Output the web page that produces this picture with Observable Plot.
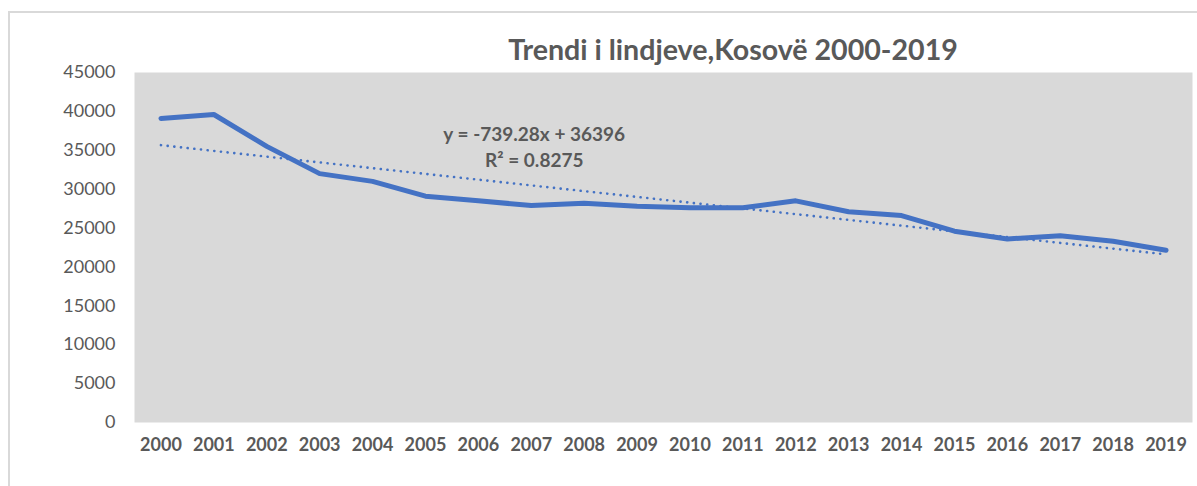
<!DOCTYPE html>
<html>
<head>
<meta charset="utf-8">
<script src="https://cdn.jsdelivr.net/npm/d3@7"></script>
<script src="https://cdn.jsdelivr.net/npm/@observablehq/plot@0.6"></script>
<style>
  body { margin: 0; background: #fff; }
  #wrap { position: relative; width: 1197px; height: 486px; overflow: hidden; font-family: Lato, "Open Sans", sans-serif; }
  #border { position: absolute; left: 8px; top: 11px; width: 1300px; height: 600px; border-left: 2px solid #d9d9d9; border-top: 2px solid #d9d9d9; }
  #title { position: absolute; left: 733px; top: 35px; transform: translateX(-50%); font-size: 28.6px; font-weight: bold; color: #595959; white-space: nowrap; line-height: 1; }
  #chart { position: absolute; left: 0; top: 0; }
</style>
</head>
<body>
<div id="wrap">
  <div id="border"></div>
  <div id="chart"></div>
  <div id="title"></div>
</div>
<script>
const titleText = "Trendi i lindjeve,Kosovë 2000-2019";
const years = ["2000","2001","2002","2003","2004","2005","2006","2007","2008","2009","2010","2011","2012","2013","2014","2015","2016","2017","2018","2019"];
const births = [39100,39600,35500,32000,31000,29100,28500,27900,28200,27800,27600,27600,28500,27100,26600,24600,23600,24000,23300,22150];
const yTicks = [0,5000,10000,15000,20000,25000,30000,35000,40000,45000];
const trendSlope = -739.28;
const trendIntercept = 36396;
const trendLabel = "y = -739.28x + 36396\nR² = 0.8275";
const labelYear = "2007";
const labelValue = 35550;

document.getElementById("title").textContent = titleText;

const data = years.map((y, i) => ({year: y, value: births[i], trend: trendSlope * (i + 1) + trendIntercept}));

const chart = Plot.plot({
  width: 1197,
  height: 486,
  marginLeft: 134,
  marginRight: 5,
  marginTop: 72,
  marginBottom: 64,
  style: {background: "transparent", fontFamily: "Lato, 'Open Sans', sans-serif", color: "#595959"},
  x: {type: "point", domain: years, padding: 0.5, round: false, label: null},
  y: {domain: [0, 45000], ticks: yTicks, label: null},
  marks: [
    Plot.frame({fill: "#d9d9d9", stroke: "none"}),
    Plot.axisY({ticks: yTicks, tickSize: 0, tickPadding: 19, tickFormat: d => String(d), fontSize: 18, fill: "#595959", label: null}),
    Plot.axisX({tickSize: 0, tickPadding: 16, fontSize: 18, fontWeight: "bold", fill: "#595959", label: null}),
    Plot.line(data, {x: "year", y: "trend", stroke: "#4472c4", strokeWidth: 2.6, strokeDasharray: "0.1 6.6", strokeLinecap: "round"}),
    Plot.line(data, {x: "year", y: "value", stroke: "#4472c4", strokeWidth: 5, strokeLinejoin: "round", strokeLinecap: "round"}),
    Plot.text([{year: labelYear, value: labelValue}], {x: "year", y: "value", text: () => trendLabel, fontSize: 19, fontWeight: "bold", fill: "#595959", lineHeight: 1.35, dx: 3})
  ]
});
document.getElementById("chart").appendChild(chart);
</script>
</body>
</html>
